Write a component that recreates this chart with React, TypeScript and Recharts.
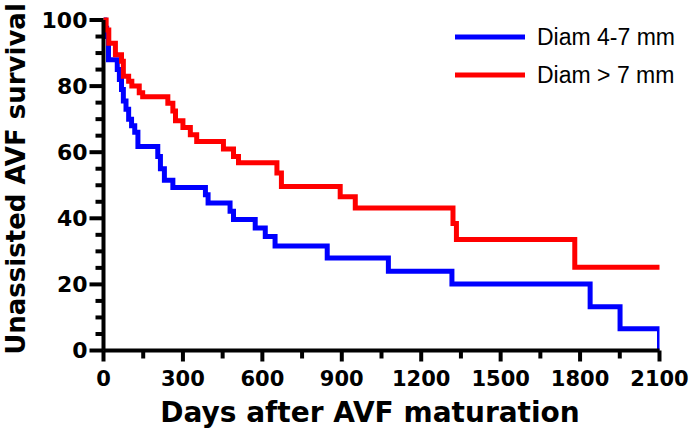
import { Legend, Line, LineChart, XAxis, YAxis } from 'recharts';

// Kaplan-Meier steps: day of the step, survival (%) after it
const smallDays = [0, 5, 12, 19, 52, 60, 68, 75, 85, 95, 106, 118, 130, 205, 215, 230, 262, 385, 395, 478, 491, 573, 611, 648, 845, 1076, 1316, 1838, 1951, 2100, 2100];
const smallSurv = [100, 97.5, 95, 88, 85, 82, 79, 75.5, 73, 70, 68, 66, 61.7, 58.7, 55, 51.5, 49.3, 47.1, 44.6, 42.1, 39.6, 37.1, 34.5, 31.6, 28, 24, 20.1, 13.2, 6.6, 6.6, 0];

const largeDays = [0, 10, 20, 45, 68, 75, 95, 107, 135, 148, 243, 262, 272, 300, 328, 352, 453, 491, 510, 655, 672, 894, 951, 1320, 1333, 1780, 2100];
const largeSurv = [100, 97, 93, 89.5, 87.5, 83, 81.5, 80, 78, 76.8, 74.8, 72.5, 69.5, 67.5, 65.3, 63.2, 61, 58.7, 56.8, 53.7, 49.6, 46.5, 43.1, 38.4, 33.6, 25.2, 25.2];

const xTicks = [0, 150, 300, 450, 600, 750, 900, 1050, 1200, 1350, 1500, 1650, 1800, 1950, 2100];
const xLabels = [0, 300, 600, 900, 1200, 1500, 1800, 2100];
const yTicks = [0, 5, 10, 15, 20, 25, 30, 35, 40, 45, 50, 55, 60, 65, 70, 75, 80, 85, 90, 95, 100];
const yLabels = [0, 20, 40, 60, 80, 100];

const smallRows = smallDays.map((day, i) => ({ day, surv: smallSurv[i] }));
const largeRows = largeDays.map((day, i) => ({ day, surv: largeSurv[i] }));

const FONT = '"DejaVu Sans", sans-serif';

function XTick({ x, y, payload }: any) {
  const major = xLabels.includes(payload.value);
  return (
    <g>
      <line x1={x} x2={x} y1={y} y2={y + (major ? 11 : 8)} stroke="#000" strokeWidth={4} />
      {major && (
        <text x={x} y={y + 35} textAnchor="middle" fontFamily={FONT} fontWeight="bold" fontSize={21} fill="#000">
          {payload.value}
        </text>
      )}
    </g>
  );
}

function YTick({ x, y, payload }: any) {
  const major = yLabels.includes(payload.value);
  return (
    <g>
      <line x1={x - (major ? 14 : 8)} x2={x} y1={y} y2={y} stroke="#000" strokeWidth={4} />
      {major && (
        <text x={x - 16} y={y} dy="0.36em" textAnchor="end" fontFamily={FONT} fontWeight="bold" fontSize={22} fill="#000">
          {payload.value}
        </text>
      )}
    </g>
  );
}

function XTitle() {
  return (
    <text x={370} y={422} textAnchor="middle" fontFamily={FONT} fontWeight="bold" fontSize={28} fill="#000">
      Days after AVF maturation
    </text>
  );
}

function YTitle() {
  return (
    <text
      x={25}
      y={179}
      transform="rotate(-90, 25, 179)"
      textAnchor="middle"
      fontFamily={FONT}
      fontWeight="bold"
      fontSize={26}
      fill="#000"
    >
      Unassisted AVF survival
    </text>
  );
}

function KmLegend({ payload }: any) {
  return (
    <svg width={253} height={100}>
      {(payload || []).map((p: any, i: number) => (
        <g key={p.value}>
          <line x1={15} x2={85} y1={37 + i * 38} y2={37 + i * 38} stroke={p.color} strokeWidth={5} />
          <text
            x={97}
            y={45 + i * 38}
            fontFamily='"Liberation Sans", Arial, sans-serif'
            fontSize={23}
            fill="#000"
          >
            {p.value}
          </text>
        </g>
      ))}
    </svg>
  );
}

export default function App() {
  return (
    <div style={{ position: 'absolute', left: 0, top: 0, width: 693, height: 444, background: '#fff' }}>
      <LineChart width={693} height={444} margin={{ top: 20, right: 33.5, bottom: 0, left: 0 }}>
        <XAxis
          dataKey="day"
          type="number"
          domain={[0, 2100]}
          ticks={xTicks}
          interval={0}
          allowDataOverflow
          height={93.5}
          axisLine={{ stroke: '#000', strokeWidth: 4 }}
          tickLine={false}
          tickSize={0}
          tickMargin={0}
          tick={<XTick />}
          label={<XTitle />}
        />
        <YAxis
          type="number"
          domain={[0, 100]}
          ticks={yTicks}
          interval={0}
          width={103.5}
          axisLine={{ stroke: '#000', strokeWidth: 4 }}
          tickLine={false}
          tickSize={0}
          tickMargin={0}
          tick={<YTick />}
          label={<YTitle />}
        />
        <Legend
          layout="vertical"
          align="center"
          verticalAlign="middle"
          content={<KmLegend />}
          wrapperStyle={{ top: 0, left: 440, width: 253, height: 100 }}
        />
        <Line
          data={smallRows}
          dataKey="surv"
          name="Diam 4-7 mm"
          type="stepAfter"
          stroke="#0000ff"
          strokeWidth={5}
          dot={false}
          activeDot={false}
          isAnimationActive={false}
        />
        <Line
          data={largeRows}
          dataKey="surv"
          name="Diam > 7 mm"
          type="stepAfter"
          stroke="#ff0000"
          strokeWidth={5}
          strokeLinecap="round"
          dot={false}
          activeDot={false}
          isAnimationActive={false}
        />
      </LineChart>
    </div>
  );
}
